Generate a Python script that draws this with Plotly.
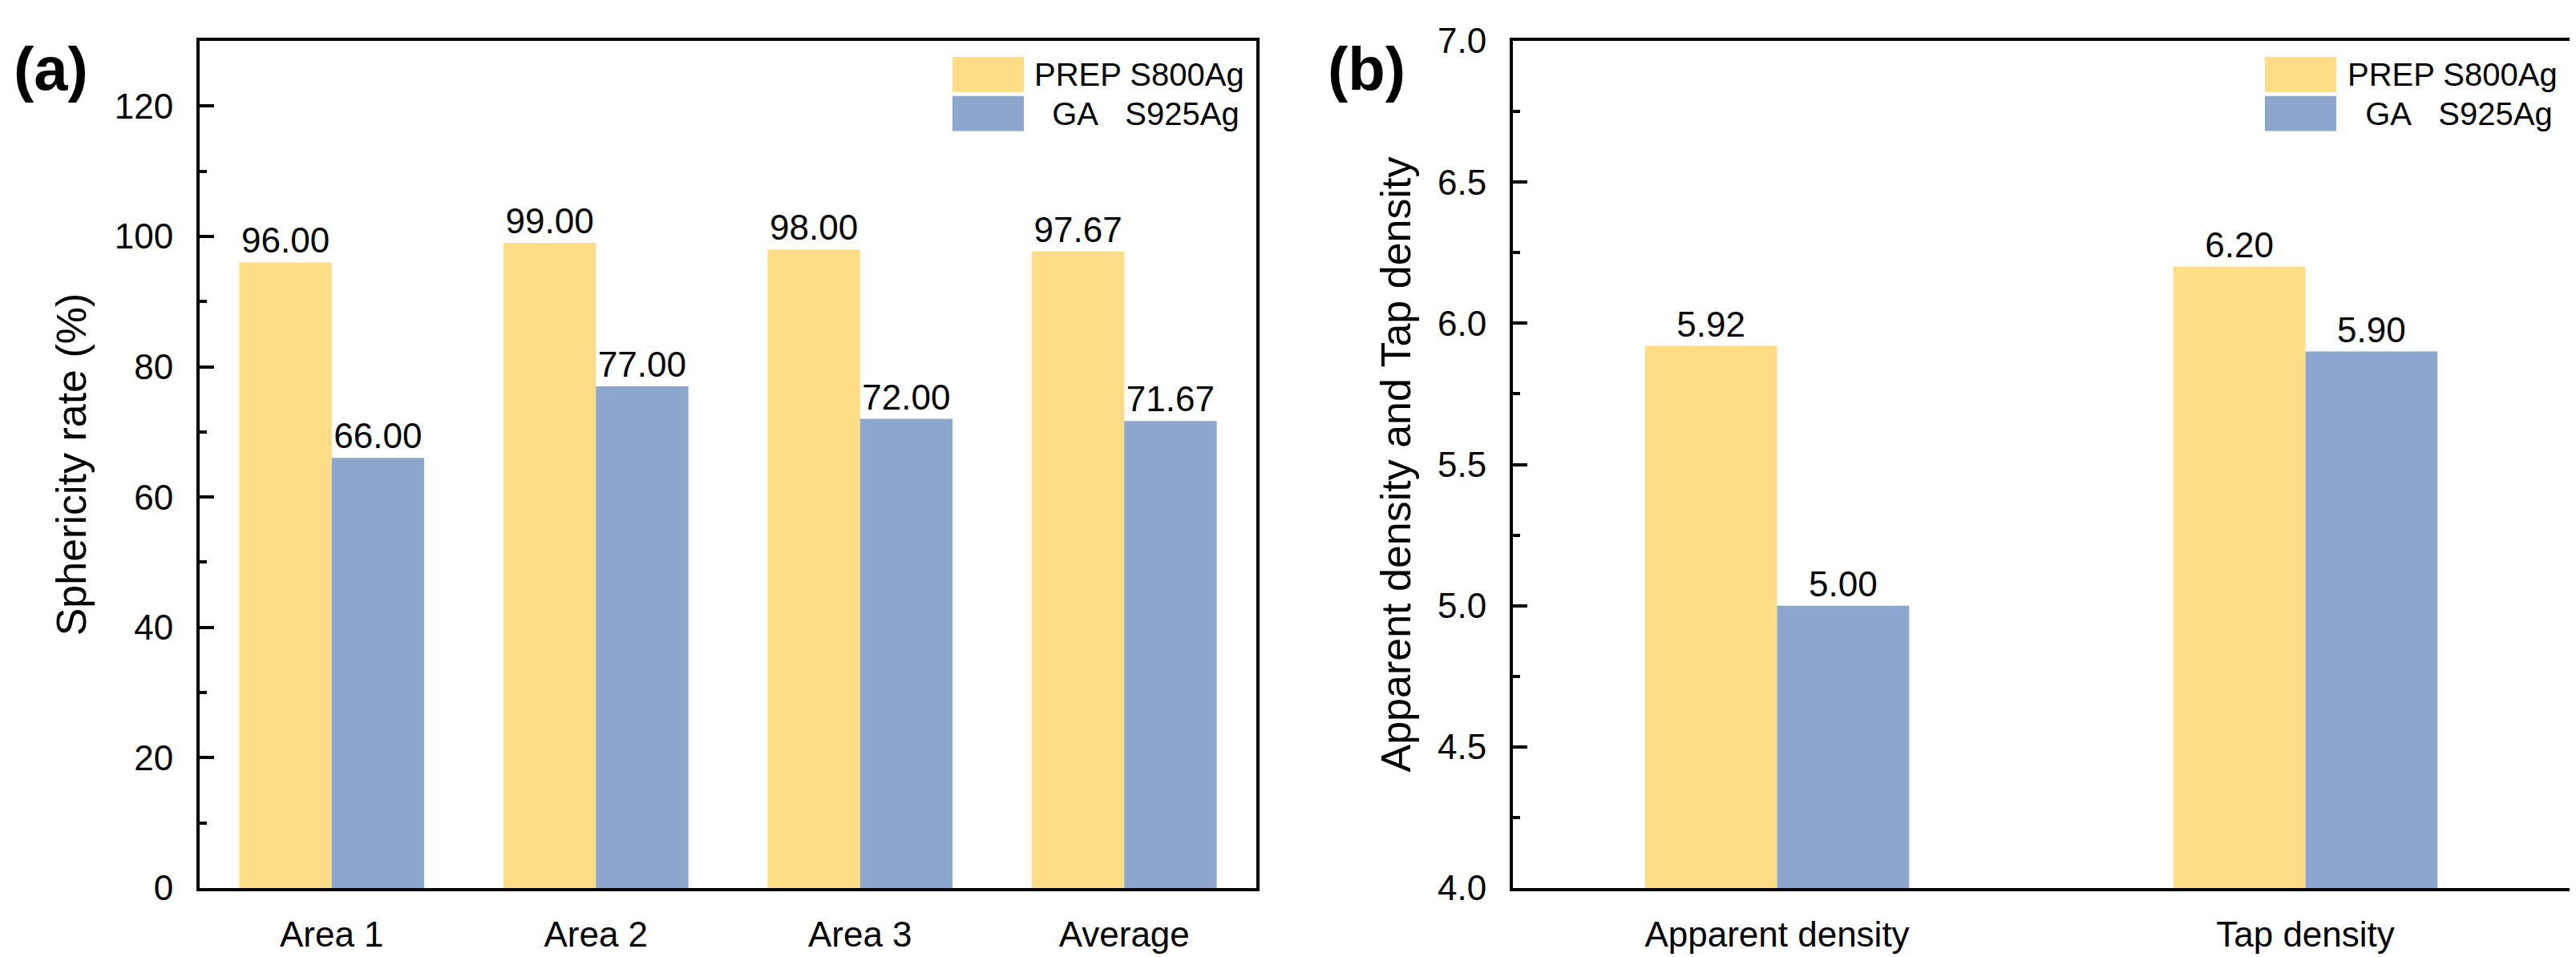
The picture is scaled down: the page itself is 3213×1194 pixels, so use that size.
import plotly.graph_objects as go
from plotly.subplots import make_subplots

# ---- data ----
areas = ["Area 1", "Area 2", "Area 3", "Average"]
prep_sphericity = [96.00, 99.00, 98.00, 97.67]
ga_sphericity = [66.00, 77.00, 72.00, 71.67]

density_types = ["Apparent density", "Tap density"]
density_base = 4.0
prep_density = [5.92, 6.20]
ga_density = [5.00, 5.90]

series_names = ["PREP S800Ag", "\u00a0\u00a0GA\u00a0\u00a0\u00a0S925Ag"]
colors = ["#FEDD86", "#8CA6CE"]

W, H = 3213, 1194
ML, MR, MT, MB = 241, 16, 43, 90
PW = W - ML - MR
PH = H - MT - MB

def px(x):
    return (x - ML) / PW

def py(y):
    return (H - MB - y) / PH

FONT = "Arial, Liberation Sans, sans-serif"

fig = make_subplots(rows=1, cols=2, horizontal_spacing=0.1082)

fig.add_trace(go.Bar(x=areas, y=prep_sphericity, marker=dict(color=colors[0], line=dict(width=0)),
                     texttemplate="%{y:.2f}", textposition="outside", name=series_names[0],
                     showlegend=False, cliponaxis=False, constraintext="none"), row=1, col=1)
fig.add_trace(go.Bar(x=areas, y=ga_sphericity, marker=dict(color=colors[1], line=dict(width=0)),
                     texttemplate="%{y:.2f}", textposition="outside", name=series_names[1],
                     showlegend=False, cliponaxis=False, constraintext="none"), row=1, col=1)

# panel (b): bars start at the axis minimum (4.0)
fig.add_trace(go.Bar(x=density_types, y=[v - density_base for v in prep_density], base=density_base,
                     width=0.25, offset=-0.25,
                     marker=dict(color=colors[0], line=dict(width=0)),
                     text=[f"{v:.2f}" for v in prep_density], textposition="outside",
                     name=series_names[0], showlegend=False, cliponaxis=False,
                     constraintext="none"), row=1, col=2)
fig.add_trace(go.Bar(x=density_types, y=[v - density_base for v in ga_density], base=density_base,
                     width=0.25, offset=0.0,
                     marker=dict(color=colors[1], line=dict(width=0)),
                     text=[f"{v:.2f}" for v in ga_density], textposition="outside",
                     name=series_names[1], showlegend=False, cliponaxis=False,
                     constraintext="none"), row=1, col=2)

fig.update_traces(textfont=dict(family=FONT, size=44, color="black"))

axis_common = dict(showline=True, linecolor="black", linewidth=4, mirror=True,
                   showgrid=False, zeroline=False,
                   tickfont=dict(family=FONT, size=44, color="black"))

fig.update_xaxes(**axis_common, ticks="", ticklabelstandoff=16)
fig.update_xaxes(domain=[0, px(1559)], range=[-0.5, 3.5], row=1, col=1)
fig.update_xaxes(domain=[px(1879), 1], range=[-0.5, 1.5], row=1, col=2)

fig.update_yaxes(**axis_common, ticks="inside", ticklen=18, tickwidth=4, tickcolor="black",
                 ticklabelstandoff=20,
                 title_font=dict(family=FONT, size=52, color="black"))
fig.update_yaxes(range=[0, 130], dtick=20, tick0=0,
                 minor=dict(ticks="inside", ticklen=9, tickwidth=4, dtick=10, tickcolor="black"),
                 title_text="Sphericity rate (%)", title_standoff=20, row=1, col=1)
fig.update_yaxes(range=[4.0, 7.0], dtick=0.5, tick0=4.0, tickformat=".1f",
                 minor=dict(ticks="inside", ticklen=9, tickwidth=4, dtick=0.25, tickcolor="black"),
                 title_text="Apparent density and Tap density", title_standoff=18, row=1, col=2)

fig.update_layout(width=W, height=H, margin=dict(l=ML, r=MR, t=MT, b=MB, pad=0),
                  paper_bgcolor="white", plot_bgcolor="white",
                  barmode="group", bargap=0.3, bargroupgap=0, showlegend=False,
                  font=dict(family=FONT, color="black"))

# ---- panel labels ----
fig.add_annotation(x=px(56), y=py(78), xref="paper", yref="paper", text="<b>(a)</b>",
                   showarrow=False, xanchor="center", yanchor="middle",
                   font=dict(family=FONT, size=76, color="black"))
fig.add_annotation(x=px(1696), y=py(78), xref="paper", yref="paper", text="<b>(b)</b>",
                   showarrow=False, xanchor="center", yanchor="middle",
                   font=dict(family=FONT, size=76, color="black"))

# ---- custom legends (large swatches as in the original) ----
for sw_x0, txt_x in [(1180, 1280), (2817, 2918)]:
    for i, (y0, y1) in enumerate([(63, 107), (112, 156)]):
        fig.add_shape(type="rect", xref="paper", yref="paper",
                      x0=px(sw_x0), x1=px(sw_x0 + 89), y0=py(y1), y1=py(y0),
                      fillcolor=colors[i], line=dict(width=0))
        fig.add_annotation(x=px(txt_x), y=py((y0 + y1) / 2), xref="paper", yref="paper",
                           text=series_names[i], showarrow=False, xanchor="left", yanchor="middle",
                           font=dict(family=FONT, size=40, color="black"))

fig.write_html("out.html")
